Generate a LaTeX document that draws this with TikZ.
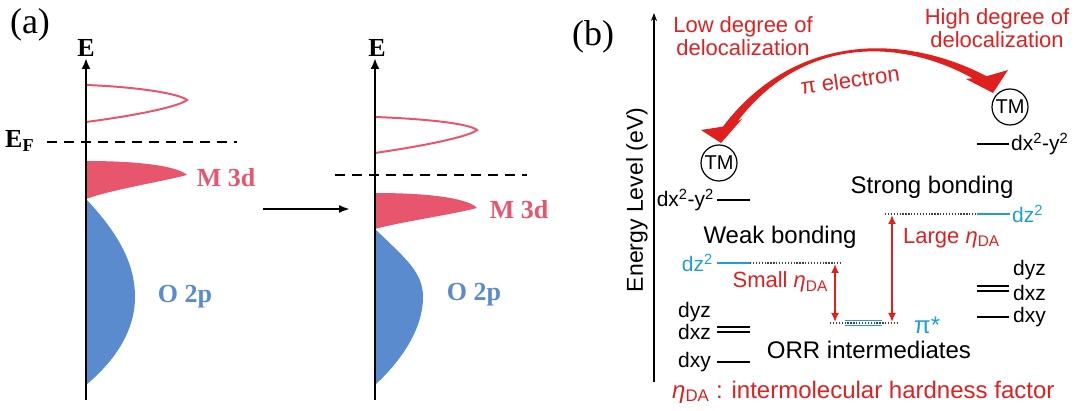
\documentclass[tikz,border=0pt]{standalone}
\usepackage{fontspec}
\setmainfont{Liberation Sans}
\newfontfamily\seriffam{Liberation Serif}
\usetikzlibrary{arrows.meta}
\definecolor{pk}{HTML}{E8566E}
\definecolor{bl}{HTML}{5B8BCF}
\definecolor{rd}{HTML}{E0201F}
\definecolor{cy}{HTML}{1E9FD2}
\tikzset{
  sb/.style={font=\seriffam\bfseries\fontsize{26}{30}\selectfont, inner sep=0pt},
  panel/.style={font=\seriffam\fontsize{36}{40}\selectfont, inner sep=0pt},
  txt/.style={font=\fontsize{24}{28}\selectfont, inner sep=0pt},
  rtxt/.style={font=\fontsize{22}{22}\selectfont, inner sep=0pt, text=rd, align=center},
  sm/.style={font=\fontsize{21}{24}\selectfont, inner sep=0pt},
  lvl/.style={line width=2pt},
  clvl/.style={line width=2pt, cy},
  dots/.style={line width=1.3pt, black!75, dash pattern=on 1.3pt off 1.6pt},
  axisA/.style={line width=2.5pt, -{Latex[length=11pt,width=9pt]}},
  efline/.style={line width=2.5pt, dash pattern=on 10pt off 7pt},
  pkline/.style={pk, line width=2pt},
  redarr/.style={rd, line width=2pt, {Latex[length=9pt,width=8pt]}-{Latex[length=9pt,width=8pt]}},
  tm/.style={circle, draw, line width=1.2pt, minimum size=36pt, inner sep=0pt, font=\fontsize{20}{24}\selectfont}
}
\begin{document}
\begin{tikzpicture}[x=1pt,y=-1pt]
\useasboundingbox (0,0) rectangle (1080,411);

% ---------------- panel (a) ----------------
\node[panel] (pa) at (30,25) {(a)};

% left DOS
\fill[bl] (86,199) .. controls (120,235) and (135,265) .. (135,297) .. controls (135,335) and (110,365) .. (86,385) -- cycle;
\fill[pk] (86,161) .. controls (150,161) and (180,168) .. (187,175) .. controls (160,182) and (110,190) .. (86,199) -- cycle;
\draw[pkline] (86,85) .. controls (140,87) and (180,94) .. (187,100) .. controls (180,106) and (140,115) .. (86,122);
\coordinate (ax1b) at (86,400);
\coordinate (ax1t) at (86,58);
\draw[axisA] (ax1b) -- (ax1t);
\coordinate (ef1a) at (47,142);
\coordinate (ef1b) at (237,142);
\draw[efline] (ef1a) -- (ef1b);
\node[sb] (E1) at (86,48) {E};
\node[sb, anchor=west] (EF) at (5,141) {E\textsubscript{F}};
\node[sb, text=pk] (m3d1) at (226,178) {M 3d};
\node[sb, text=bl] (o2p1) at (185,297) {O 2p};

% transition arrow
\coordinate (tra) at (263,209);
\coordinate (trb) at (350,209);
\draw[line width=2pt, -{Latex[length=11pt,width=8pt]}] (tra) -- (trb);

% right DOS
\fill[bl] (375,229) .. controls (405,258) and (423,272) .. (423,297) .. controls (423,330) and (400,362) .. (375,385) -- cycle;
\fill[pk] (375,193) .. controls (439,193) and (470,200) .. (477,208) .. controls (450,215) and (400,222) .. (375,229) -- cycle;
\draw[pkline] (375,117) .. controls (430,119) and (470,124) .. (477,130) .. controls (470,136) and (430,145) .. (375,153);
\coordinate (ax2b) at (375,400);
\coordinate (ax2t) at (375,58);
\draw[axisA] (ax2b) -- (ax2t);
\coordinate (ef2a) at (335,175);
\coordinate (ef2b) at (527,175);
\draw[efline] (ef2a) -- (ef2b);
\node[sb] (E2) at (377,48) {E};
\node[sb, text=pk] (m3d2) at (519,210) {M 3d};
\node[sb, text=bl] (o2p2) at (474,295) {O 2p};

% ---------------- panel (b) ----------------
\node[panel] (pb) at (593,37) {(b)};
\coordinate (bxb) at (654,382);
\coordinate (bxt) at (654,13);
\draw[line width=1.5pt, -{Stealth[length=8pt,width=6pt]}] (bxb) -- (bxt);
\node[font=\fontsize{23}{26}\selectfont, inner sep=0pt, rotate=90] (elev) at (637,200) {Energy Level (eV)};

\node[rtxt] (low) at (743,36) {Low degree of\\[1pt]delocalization};
\node[rtxt] (high) at (997,28) {High degree of\\[1pt]delocalization};

% curved pi-electron arrow (tapered)
\fill[rd] (722.4,127.3) .. controls (793.2,33.4) and (903.5,32.1) .. (988.2,77.1)
  -- (983.8,84.9) .. controls (902.5,33.9) and (794.8,34.6) .. (729.6,132.7) -- cycle;
\fill[rd] (727,126) -- (701,130) -- (721,143) -- (742,119) -- cycle;
\fill[rd] (984,77) -- (966,79) -- (993,93) -- (1008,70) -- cycle;
\node[rtxt, rotate=8] (pie) at (850,80) {π electron};

\node[tm] (tmL) at (719,163) {TM};
\node[tm] (tmR) at (1010,107) {TM};

% left levels
\coordinate (Lx1) at (717,200); \coordinate (Lx2) at (750,200);
\draw[lvl] (Lx1) -- (Lx2);
\node[sm, anchor=east] (Ldx) at (714,200) {dx\textsuperscript{2}-y\textsuperscript{2}};

\coordinate (Lz1) at (717,263); \coordinate (Lz2) at (750,263); \coordinate (Lz3) at (842,263);
\draw[clvl] (Lz1) -- (Lz2);
\draw[dots] (Lz2) -- (Lz3);
\node[sm, anchor=east, text=cy] (Ldz) at (713,263) {dz\textsuperscript{2}};

\coordinate (Ld1) at (717,327); \coordinate (Ld2) at (750,327);
\coordinate (Ld3) at (717,332); \coordinate (Ld4) at (750,332);
\draw[lvl] (Ld1) -- (Ld2);
\draw[lvl] (Ld3) -- (Ld4);
\node[sm, anchor=east] (Ldyz) at (711,312) {dyz};
\node[sm, anchor=east] (Ldxz) at (711,332) {dxz};
\coordinate (Ly1) at (717,362); \coordinate (Ly2) at (750,362);
\draw[lvl] (Ly1) -- (Ly2);
\node[sm, anchor=east] (Ldxy) at (711,362) {dxy};

\node[txt] (weak) at (780,237) {Weak bonding};
\node[txt] (strong) at (932,187) {Strong bonding};

% right levels
\coordinate (Rx1) at (977,144); \coordinate (Rx2) at (1009,144);
\draw[lvl] (Rx1) -- (Rx2);
\node[sm, anchor=west] (Rdx) at (1011,144) {dx\textsuperscript{2}-y\textsuperscript{2}};

\coordinate (Rz0) at (885,214); \coordinate (Rz1) at (977,214); \coordinate (Rz2) at (1010,214);
\draw[dots] (Rz0) -- (Rz1);
\draw[clvl] (Rz1) -- (Rz2);
\node[sm, anchor=west, text=cy] (Rdz) at (1012,214) {dz\textsuperscript{2}};

\coordinate (Rd1) at (977,286); \coordinate (Rd2) at (1009,286);
\coordinate (Rd3) at (977,291); \coordinate (Rd4) at (1009,291);
\draw[lvl] (Rd1) -- (Rd2);
\draw[lvl] (Rd3) -- (Rd4);
\node[sm, anchor=west] (Rdyz) at (1013,270) {dyz};
\node[sm, anchor=west] (Rdxz) at (1013,293) {dxz};
\coordinate (Ry1) at (977,317); \coordinate (Ry2) at (1009,317);
\draw[lvl] (Ry1) -- (Ry2);
\node[sm, anchor=west] (Rdxy) at (1013,317) {dxy};

% pi* level
\coordinate (p0) at (830,323); \coordinate (p3) at (898,323);
\draw[dots] (p0) -- (p3);
\draw[cy, line width=1.3pt] (845,320.5) -- (882,320.5);
\draw[cy, line width=1.3pt] (845,325.5) -- (882,325.5);
\node[font=\fontsize{24}{28}\selectfont, inner sep=0pt, text=cy, anchor=west] (pis) at (914,325) {π*};

% hardness arrows
\coordinate (s1) at (835,264); \coordinate (s2) at (835,322);
\draw[redarr] (s1) -- (s2);
\coordinate (g1) at (892,215); \coordinate (g2) at (892,322);
\draw[redarr] (g1) -- (g2);
\node[rtxt, anchor=east] (small) at (828,282) {Small {\itshape η}\textsubscript{DA}};
\node[rtxt, anchor=west] (large) at (903,238) {Large {\itshape η}\textsubscript{DA}};

\node[txt] (orr) at (869,350) {ORR intermediates};
\node[txt, text=rd, anchor=west] (hard) at (672,392) {{\itshape η}\textsubscript{DA} : intermolecular hardness factor};
\end{tikzpicture}
\end{document}
